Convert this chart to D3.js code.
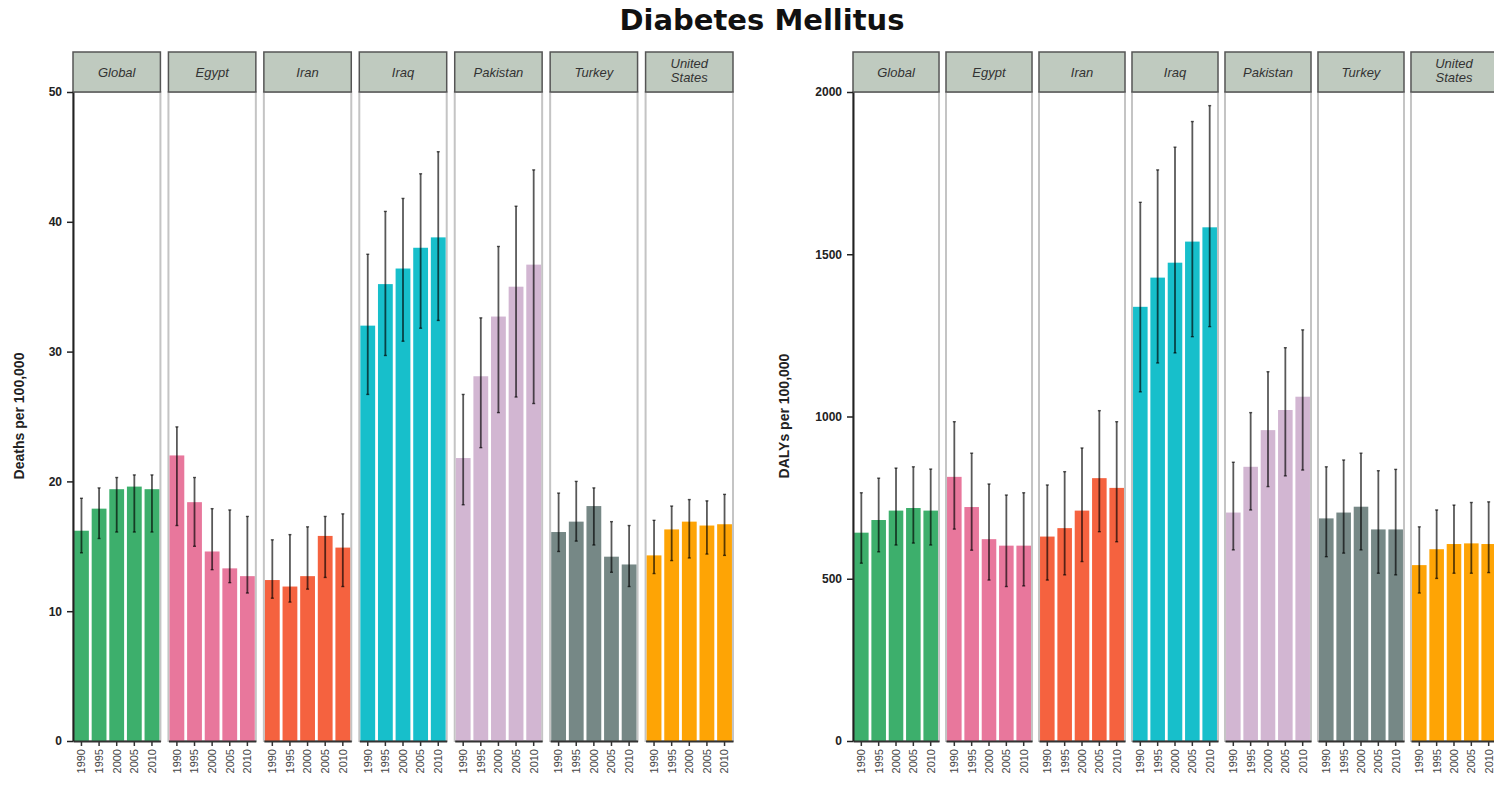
<!DOCTYPE html>
<html><head><meta charset="utf-8">
<script src="https://cdn.jsdelivr.net/npm/d3@7"></script>
<style>
body{margin:0;background:#fff;}
svg{display:block;font-family:"Liberation Sans",Arial,sans-serif;}
</style></head>
<body>
<svg id="chart" width="1494" height="786"></svg>
<script>
const title = "Diabetes Mellitus";
const countries = ["Global","Egypt","Iran","Iraq","Pakistan","Turkey","United States"];
const years = ["1990","1995","2000","2005","2010"];
const colors = ["#3daf6c","#e8779c","#f5623f","#17bfcb","#d2b6d2","#768886","#fea405"];

const deathTicks = [0,10,20,30,40,50];
const deathValue = [
  [16.2,17.9,19.4,19.6,19.4],
  [22.0,18.4,14.6,13.3,12.7],
  [12.4,11.9,12.7,15.8,14.9],
  [32.0,35.2,36.4,38.0,38.8],
  [21.8,28.1,32.7,35.0,36.7],
  [16.1,16.9,18.1,14.2,13.6],
  [14.3,16.3,16.9,16.6,16.7]
];
const deathLower = [
  [14.5,15.6,16.1,16.1,16.1],
  [16.6,15.0,13.2,12.2,11.4],
  [11.0,10.7,11.7,12.6,11.9],
  [26.7,29.7,30.8,31.8,32.4],
  [18.2,22.6,25.3,26.5,26.0],
  [14.6,15.4,15.1,13.0,11.9],
  [12.9,13.9,14.1,14.4,14.3]
];
const deathUpper = [
  [18.7,19.5,20.3,20.5,20.5],
  [24.2,20.3,17.9,17.8,17.3],
  [15.5,15.9,16.5,17.3,17.5],
  [37.5,40.8,41.8,43.7,45.4],
  [26.7,32.6,38.1,41.2,44.0],
  [19.1,20.0,19.5,16.9,16.6],
  [17.0,18.1,18.6,18.5,19.0]
];

const dalyTicks = [0,500,1000,1500,2000];
const dalyValue = [
  [642,681,710,718,710],
  [814,721,622,602,602],
  [630,656,710,810,780],
  [1338,1428,1474,1539,1583],
  [704,845,958,1020,1061],
  [686,704,722,652,652],
  [542,591,607,609,607]
];
const dalyLower = [
  [548,583,604,610,604],
  [653,588,496,476,478],
  [496,512,553,645,614],
  [1076,1165,1196,1246,1277],
  [589,712,784,817,835],
  [568,579,589,517,512],
  [456,501,517,517,519]
];
const dalyUpper = [
  [765,810,841,845,838],
  [984,887,792,758,765],
  [789,830,903,1018,984],
  [1660,1760,1830,1909,1958],
  [859,1012,1138,1212,1267],
  [845,866,887,833,837],
  [660,712,727,735,737]
];

const svg = d3.select("#chart");

svg.append("text")
  .attr("x", 762).attr("y", 30)
  .attr("text-anchor","middle")
  .attr("font-family", "'DejaVu Sans', sans-serif")
  .attr("font-size", 29).attr("font-weight","bold")
  .attr("fill","#111")
  .text(title);

function drawChart(opt){
  const g = svg.append("g");
  const y = d3.scaleLinear().domain(opt.domain).range([741, 92]);
  const px = d3.scaleBand().domain(countries).range(opt.xRange).paddingInner(opt.padIn).paddingOuter(0);
  const bx = d3.scaleBand().domain(years).range([0, px.bandwidth()]).paddingInner(0.16).paddingOuter(0.06);

  countries.forEach((c, ci) => {
    const pg = g.append("g").attr("transform", `translate(${px(c)},0)`);
    pg.append("rect")
      .attr("x", 0).attr("y", 92)
      .attr("width", px.bandwidth()).attr("height", 741 - 92)
      .attr("fill", "#fff").attr("stroke", "#c4c4c4").attr("stroke-width", 2);
    pg.selectAll("rect.bar").data(years).join("rect")
      .attr("class","bar")
      .attr("x", d => bx(d)).attr("width", bx.bandwidth())
      .attr("y", (d,i) => y(opt.value[ci][i]))
      .attr("height", (d,i) => y(0) - y(opt.value[ci][i]))
      .attr("fill", colors[ci]);
    pg.selectAll("line.err").data(years).join("line")
      .attr("class","err")
      .attr("x1", d => bx(d) + bx.bandwidth()/2).attr("x2", d => bx(d) + bx.bandwidth()/2)
      .attr("y1", (d,i) => y(opt.lower[ci][i])).attr("y2", (d,i) => y(opt.upper[ci][i]))
      .attr("stroke", "#000").attr("stroke-opacity", 0.65).attr("stroke-width", 1.8);
    ["lower","upper"].forEach(k => {
      pg.selectAll("line.cap"+k).data(years).join("line")
        .attr("class","cap"+k)
        .attr("x1", d => bx(d) + bx.bandwidth()/2 - 1.5).attr("x2", d => bx(d) + bx.bandwidth()/2 + 1.5)
        .attr("y1", (d,i) => y(opt[k][ci][i])).attr("y2", (d,i) => y(opt[k][ci][i]))
        .attr("stroke", "#000").attr("stroke-opacity", 0.65).attr("stroke-width", 1.4);
    });
    const xa = pg.append("g").attr("transform", `translate(0,${y(0)})`)
      .call(d3.axisBottom(bx).tickSize(5).tickPadding(4).tickSizeOuter(0));
    xa.select(".domain").attr("stroke", "#333").attr("stroke-width", 2);
    xa.selectAll(".tick line").attr("stroke", "#333").attr("stroke-width", 1.5);
    xa.selectAll(".tick text")
      .attr("transform", "rotate(-90)")
      .attr("text-anchor", "end")
      .attr("x", -8).attr("y", 0).attr("dy", "0.35em")
      .attr("font-size", 11).attr("fill", "#444")
      .attr("font-family", "'Liberation Sans', Arial, sans-serif");
    pg.append("rect")
      .attr("x", 0).attr("y", 52)
      .attr("width", px.bandwidth()).attr("height", 40)
      .attr("fill", "#bfcabf").attr("stroke", "#555").attr("stroke-width", 1.5);
    const words = c.split(" ");
    const st = pg.append("text")
      .attr("x", px.bandwidth()/2)
      .attr("text-anchor", "middle")
      .attr("font-size", 13).attr("font-style", "italic")
      .attr("fill", "#333");
    if (words.length === 1) {
      st.attr("y", 77).text(c);
    } else {
      words.forEach((w, wi) => st.append("tspan").attr("x", px.bandwidth()/2).attr("y", 68 + wi*14).text(w));
    }
  });

  const ya = g.append("g").attr("transform", `translate(${opt.xRange[0]},0)`)
    .call(d3.axisLeft(y).tickValues(opt.ticks).tickFormat(d3.format("d")).tickSize(6).tickPadding(5).tickSizeOuter(0));
  ya.select(".domain").attr("stroke", "#222").attr("stroke-width", 2);
  ya.selectAll(".tick line").attr("stroke", "#222").attr("stroke-width", 1.5);
  ya.selectAll(".tick text").attr("font-size", 12).attr("font-weight", "bold").attr("fill", "#222")
    .attr("font-family", "'Liberation Sans', Arial, sans-serif");

  g.append("text")
    .attr("transform", `translate(${opt.labelX},416) rotate(-90)`)
    .attr("text-anchor", "middle")
    .attr("font-size", 14).attr("font-weight", "bold").attr("fill", "#222")
    .text(opt.label);
}

drawChart({domain:[0,50], xRange:[73,733], padIn:0.084, value:deathValue, lower:deathLower, upper:deathUpper,
  ticks:deathTicks, label:"Deaths per 100,000", labelX:24});
drawChart({domain:[0,2000], xRange:[853,1497], padIn:0.075, value:dalyValue, lower:dalyLower, upper:dalyUpper,
  ticks:dalyTicks, label:"DALYs per 100,000", labelX:789});
</script>
</body></html>
